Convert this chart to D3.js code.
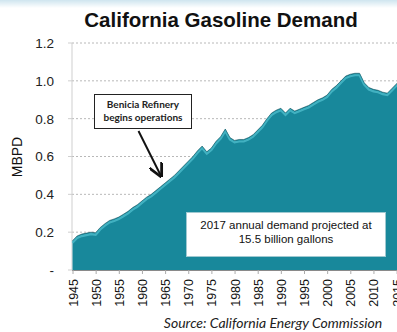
<!DOCTYPE html>
<html>
<head>
<meta charset="utf-8">
<script src="https://cdn.jsdelivr.net/npm/d3@7"></script>
<style>
  html, body { margin: 0; padding: 0; background: #fff; }
  svg { display: block; }
</style>
</head>
<body>
<svg id="chart" width="397" height="332"></svg>
<script>
const years = [];
for (let y = 1945; y <= 2016; y++) years.push(y);
const demand = [
  0.155, 0.180, 0.190, 0.195, 0.200, 0.197, 0.225, 0.245, 0.262, 0.270,
  0.280, 0.295, 0.310, 0.330, 0.345, 0.365, 0.385, 0.400, 0.420, 0.440,
  0.460, 0.480, 0.500, 0.525, 0.550, 0.575, 0.600, 0.630, 0.655, 0.625,
  0.645, 0.680, 0.705, 0.745, 0.700, 0.685, 0.690, 0.690, 0.700, 0.715,
  0.740, 0.765, 0.800, 0.830, 0.845, 0.855, 0.830, 0.855, 0.840, 0.850,
  0.860, 0.870, 0.885, 0.900, 0.910, 0.925, 0.955, 0.975, 1.000, 1.025,
  1.035, 1.040, 1.040, 0.990, 0.965, 0.955, 0.950, 0.940, 0.935, 0.960,
  0.985, 1.010
];
const yTicks = [0, 0.2, 0.4, 0.6, 0.8, 1.0, 1.2];
const yTickLabels = ["-", "0.2", "0.4", "0.6", "0.8", "1.0", "1.2"];
const xTicks = [1945, 1950, 1955, 1960, 1965, 1970, 1975, 1980, 1985, 1990, 1995, 2000, 2005, 2010, 2015];
const title = "California Gasoline Demand";
const yTitle = "MBPD";
const source = "Source: California Energy Commission";
const note1 = ["Benicia Refinery", "begins operations"];
const note2 = ["2017 annual demand projected at", "15.5 billion gallons"];

const data = years.map((yr, i) => ({ year: yr, v: demand[i] }));

const svg = d3.select("#chart");

const defs = svg.append("defs");
const g0 = defs.append("linearGradient").attr("id", "topTint").attr("x1", 0).attr("x2", 0).attr("y1", 0).attr("y2", 1);
g0.append("stop").attr("offset", "0%").attr("stop-color", "#cfe5ef");
g0.append("stop").attr("offset", "100%").attr("stop-color", "#ffffff");
svg.append("rect").attr("x", 0).attr("y", 0).attr("width", 397).attr("height", 8).attr("fill", "url(#topTint)");

const x = d3.scaleLinear().domain([1945, 2017]).range([72.5, 72.5 + 72 * 4.63]);
const y = d3.scaleLinear().domain([0, 1.2]).range([270, 43]);

// gridlines
svg.append("g").selectAll("line").data(yTicks.filter(d => d > 0)).join("line")
  .attr("x1", 72).attr("x2", 397)
  .attr("y1", d => y(d)).attr("y2", d => y(d))
  .attr("stroke", "#b8b8b8").attr("stroke-width", 1).attr("stroke-dasharray", "2,2");

// y axis line
svg.append("line").attr("x1", 72).attr("x2", 72).attr("y1", y(1.2)).attr("y2", y(0))
  .attr("stroke", "#cfcfcf").attr("stroke-width", 1);
svg.append("g").selectAll("line").data(yTicks).join("line")
  .attr("x1", 68).attr("x2", 72).attr("y1", d => y(d)).attr("y2", d => y(d))
  .attr("stroke", "#cfcfcf");

// area
const area = d3.area().x(d => x(d.year)).y0(y(0)).y1(d => y(d.v)).curve(d3.curveLinear);
const line = d3.line().x(d => x(d.year)).y(d => y(d.v)).curve(d3.curveLinear);
svg.append("path").datum(data).attr("d", area).attr("fill", "#18889b");
svg.append("path").datum(data).attr("d", line).attr("fill", "none")
  .attr("stroke", "#49b8c8").attr("stroke-width", 2.2).attr("transform", "translate(0,2)").attr("opacity", 0.85);
svg.append("path").datum(data).attr("d", line).attr("fill", "none")
  .attr("stroke", "#0c4a55").attr("stroke-width", 1).attr("opacity", 0.55);

// x axis
const xAxis = d3.axisBottom(x).tickValues(xTicks).tickSize(4).tickFormat(d3.format("d"));
const gx = svg.append("g").attr("transform", `translate(0,${y(0)})`).call(xAxis);
gx.select(".domain").attr("stroke", "#8a8a8a").attr("d", `M72,0.5H397`);
gx.selectAll(".tick line").attr("stroke", "#aaa");
gx.selectAll(".tick text")
  .attr("transform", "rotate(-90)")
  .attr("text-anchor", "end")
  .attr("x", -9).attr("y", 0).attr("dy", "0.36em")
  .attr("font-family", "'Liberation Sans', Arial, sans-serif")
  .attr("font-size", "12.5px").attr("fill", "#111");

// y tick labels
svg.append("g").selectAll("text").data(yTicks).join("text")
  .attr("x", 54).attr("y", d => y(d)).attr("dy", "0.36em")
  .attr("text-anchor", "end")
  .attr("font-family", "'Liberation Sans', Arial, sans-serif")
  .attr("font-size", "13.5px").attr("fill", "#222")
  .text((d, i) => yTickLabels[i]);

// y title
svg.append("text").attr("transform", "translate(22,157) rotate(-90)")
  .attr("text-anchor", "middle")
  .attr("font-family", "'Liberation Sans', Arial, sans-serif")
  .attr("font-size", "14px").attr("fill", "#111").text(yTitle);

// title
svg.append("text").attr("x", 221).attr("y", 27).attr("text-anchor", "middle")
  .attr("font-family", "'Liberation Sans', Arial, sans-serif").attr("font-weight", "bold")
  .attr("font-size", "20.5px").attr("fill", "#111").text(title);

// source
svg.append("text").attr("x", 273).attr("y", 328).attr("text-anchor", "middle")
  .attr("font-family", "Lato, 'Open Sans', sans-serif").attr("font-style", "italic")
  .attr("font-size", "14px").attr("fill", "#222").text(source);

// annotation 1
svg.append("rect").attr("x", 94.5).attr("y", 94.5).attr("width", 97).attr("height", 34)
  .attr("fill", "#fff").attr("stroke", "#222").attr("stroke-width", 1);
svg.append("g").selectAll("text").data(note1).join("text")
  .attr("x", 143).attr("y", (d, i) => 108 + i * 12.5).attr("text-anchor", "middle")
  .attr("font-family", "Lato, 'Open Sans', sans-serif").attr("font-weight", "bold")
  .attr("font-size", "10px").attr("fill", "#222").text(d => d);
defs.append("marker").attr("id", "arrow").attr("viewBox", "0 0 10 10").attr("refX", 9).attr("refY", 5)
  .attr("markerWidth", 7).attr("markerHeight", 7).attr("orient", "auto-start-reverse")
  .append("path").attr("d", "M0,0 L10,5 L0,10").attr("fill", "none").attr("stroke", "#111").attr("stroke-width", 2);
svg.append("line").attr("x1", 138.5).attr("y1", 131).attr("x2", 161).attr("y2", 176)
  .attr("stroke", "#111").attr("stroke-width", 2).attr("marker-end", "url(#arrow)");

// annotation 2
svg.append("rect").attr("x", 186.5).attr("y", 212.5).attr("width", 199).attr("height", 44)
  .attr("fill", "#fff").attr("stroke", "#9fc9d1").attr("stroke-width", 1);
svg.append("g").selectAll("text").data(note2).join("text")
  .attr("x", 286).attr("y", (d, i) => 229 + i * 13.5).attr("text-anchor", "middle")
  .attr("font-family", "'Liberation Sans', Arial, sans-serif")
  .attr("font-size", "11.5px").attr("fill", "#111").text(d => d);
</script>
</body>
</html>
